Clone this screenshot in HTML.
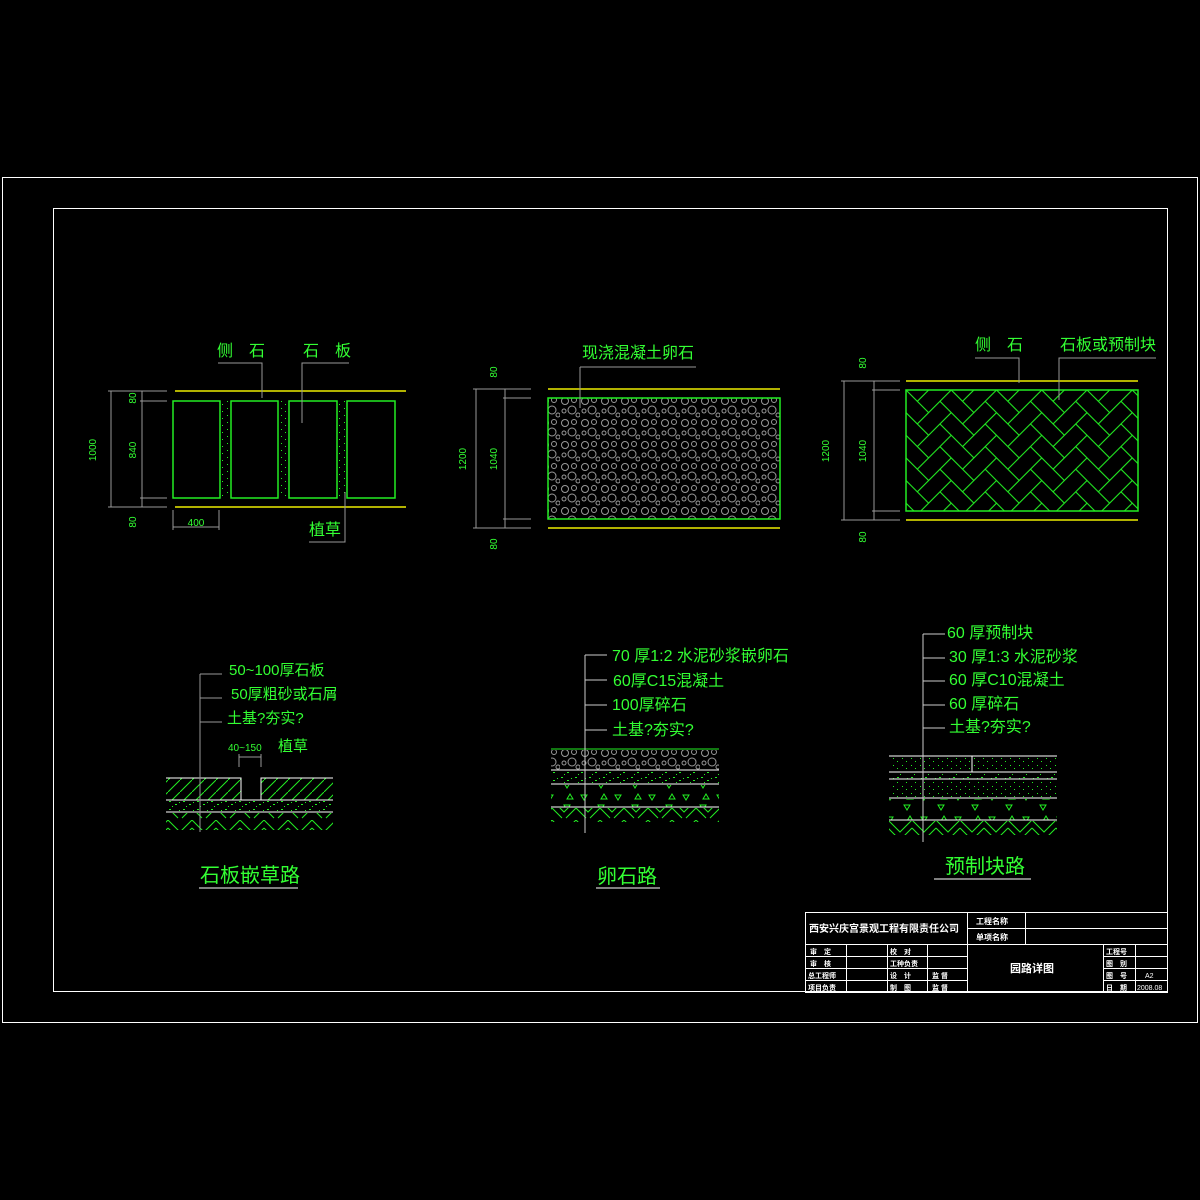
<!DOCTYPE html>
<html><head><meta charset="utf-8"><style>
html,body{margin:0;padding:0;background:#000;}
svg{display:block}
text{font-family:"Liberation Sans","Noto Sans CJK SC",sans-serif;fill:#3f3;}
</style></head><body>
<svg width="1200" height="1200" viewBox="0 0 1200 1200" xmlns="http://www.w3.org/2000/svg">
<defs>
<pattern id="cob" width="20" height="22" patternUnits="userSpaceOnUse">
<g fill="none" stroke="#999" stroke-width="1">
<circle cx="5" cy="5" r="3.5"/><circle cx="14" cy="4" r="2.5"/><circle cx="4" cy="15" r="2"/><circle cx="12" cy="14" r="4"/><circle cx="18" cy="19" r="2"/>
</g></pattern>
<g id="hb">
<rect x="-6" y="-6" width="2" height="1"/><rect x="-6" y="-5" width="1" height="2"/>
<rect x="-5" y="-5" width="2" height="1"/><rect x="-5" y="-4" width="1" height="2"/>
<rect x="-4" y="-4" width="2" height="1"/><rect x="-4" y="-3" width="1" height="2"/>
<rect x="-3" y="-3" width="2" height="1"/><rect x="-3" y="-2" width="1" height="2"/>
<rect x="-2" y="-2" width="2" height="1"/><rect x="-2" y="-1" width="1" height="2"/>
<rect x="-1" y="-1" width="2" height="1"/><rect x="-1" y="0" width="1" height="2"/>
<rect x="0" y="0" width="2" height="1"/><rect x="0" y="1" width="1" height="2"/>
<rect x="1" y="1" width="2" height="1"/><rect x="1" y="2" width="1" height="2"/>
<rect x="2" y="2" width="2" height="1"/><rect x="2" y="3" width="1" height="2"/>
<rect x="3" y="3" width="2" height="1"/><rect x="3" y="4" width="1" height="2"/>
<rect x="4" y="4" width="2" height="1"/><rect x="4" y="5" width="1" height="2"/>
<rect x="5" y="5" width="2" height="1"/><rect x="5" y="6" width="1" height="2"/>
<rect x="6" y="6" width="2" height="1"/><rect x="6" y="7" width="1" height="2"/>
<rect x="7" y="7" width="2" height="1"/><rect x="7" y="8" width="1" height="2"/>
<rect x="8" y="8" width="2" height="1"/><rect x="8" y="9" width="1" height="2"/>
</g>
<pattern id="herr" width="4" height="4" patternUnits="userSpaceOnUse" patternTransform="translate(906 390) rotate(45) scale(16)">
<g fill="none" stroke="#2e2" stroke-width="0.065">
<use href="#hb"/><use href="#hb" transform="translate(0 -4)"/><use href="#hb" transform="translate(0 4)"/>
</g></pattern>
<pattern id="soil" width="24" height="20" patternUnits="userSpaceOnUse">
<path d="M0 0 L12 12 L24 0 M0 8 L10 18 M24 8 L14 18" stroke="#2e2" stroke-width="1" fill="none"/>
</pattern>
<pattern id="diag" width="12" height="12" patternUnits="userSpaceOnUse">
<path d="M0 12 L12 0" stroke="#2e2" stroke-width="1"/>
</pattern>
<pattern id="sand" width="14" height="8" patternUnits="userSpaceOnUse">
<g fill="#2e2"><rect x="1" y="1" width="2" height="1"/><rect x="7" y="4" width="2" height="1"/><rect x="11" y="2" width="1" height="1"/><rect x="4" y="6" width="1" height="1"/></g>
</pattern>
<pattern id="tri" width="34" height="22" patternUnits="userSpaceOnUse">
<g fill="none" stroke="#2e2"><path d="M3 3 L9 3 L6 8Z"/><path d="M20 13 L26 13 L23 18Z"/><path d="M26 2 L29 7 L23 7Z"/></g>
</pattern>
<pattern id="dots" width="9" height="7" patternUnits="userSpaceOnUse">
<g fill="#2e2"><rect x="2" y="2" width="1" height="1"/><rect x="6" y="5" width="1" height="1"/></g>
</pattern>
</defs>
<g fill="none" stroke="#fff" stroke-width="1">
<rect x="2.5" y="177.5" width="1195" height="845"/>
<rect x="53.5" y="208.5" width="1114" height="783"/>
</g>

<!-- LEFT PLAN -->
<g stroke="#ee0" stroke-width="1.5"><path d="M175 391H406M175 507H406"/></g>
<g fill="none" stroke="#2e2" stroke-width="1.5">
<rect x="173" y="401" width="47" height="97"/><rect x="231" y="401" width="47" height="97"/><rect x="289" y="401" width="48" height="97"/><rect x="347" y="401" width="48" height="97"/>
</g>
<rect x="221" y="401" width="9" height="97" fill="url(#dots)"/><rect x="279" y="401" width="9" height="97" fill="url(#dots)"/><rect x="338" y="401" width="8" height="97" fill="url(#dots)"/>
<g stroke="#999" fill="none">
<path d="M111 391V507M142 391V507M108 391H167M140 401H167M140 498H167M108 507H167M173 510V530M219 510V530M173 527H219"/>
<path d="M218 363H262V398M349 363H302V423M345 492V542H309"/>
</g>
<g font-size="10">
<text x="96" y="450" transform="rotate(-90 96 450)" text-anchor="middle">1000</text>
<text x="136" y="398" transform="rotate(-90 136 398)" text-anchor="middle">80</text>
<text x="136" y="450" transform="rotate(-90 136 450)" text-anchor="middle">840</text>
<text x="136" y="522" transform="rotate(-90 136 522)" text-anchor="middle">80</text>
<text x="196" y="526" text-anchor="middle">400</text>
</g>
<g font-size="16"><text x="217" y="356">侧　石</text><text x="303" y="356">石　板</text><text x="309" y="535">植草</text></g>

<!-- MIDDLE PLAN -->
<g stroke="#ee0" stroke-width="1.5"><path d="M548 389H780M548 528H780"/></g>
<rect x="548" y="398" width="232" height="121" fill="url(#cob)" stroke="#2e2" stroke-width="1.5"/>
<g stroke="#999" fill="none"><path d="M476 389V528M505 389V528M473 389H531M503 398H531M503 519H531M473 528H531M580 367H696M580 367V408"/></g>
<g font-size="10">
<text x="497" y="372" transform="rotate(-90 497 372)" text-anchor="middle">80</text>
<text x="466" y="459" transform="rotate(-90 466 459)" text-anchor="middle">1200</text>
<text x="497" y="459" transform="rotate(-90 497 459)" text-anchor="middle">1040</text>
<text x="497" y="544" transform="rotate(-90 497 544)" text-anchor="middle">80</text>
</g>
<text x="582" y="358" font-size="16">现浇混凝土卵石</text>

<!-- RIGHT PLAN -->
<g stroke="#ee0" stroke-width="1.5"><path d="M906 381H1138M906 520H1138"/></g>
<rect x="906" y="390" width="232" height="121" fill="url(#herr)" stroke="#2e2" stroke-width="1.5"/>
<g stroke="#999" fill="none"><path d="M844 381V520M874 381V520M841 381H900M872 390H900M872 511H900M841 520H900M975 358H1019V383M1156 358H1059V400"/></g>
<g font-size="10">
<text x="866" y="363" transform="rotate(-90 866 363)" text-anchor="middle">80</text>
<text x="829" y="451" transform="rotate(-90 829 451)" text-anchor="middle">1200</text>
<text x="866" y="451" transform="rotate(-90 866 451)" text-anchor="middle">1040</text>
<text x="866" y="537" transform="rotate(-90 866 537)" text-anchor="middle">80</text>
</g>
<g font-size="16"><text x="975" y="350">侧　石</text><text x="1060" y="350">石板或预制块</text></g>

<!-- LEFT SECTION -->
<rect x="166" y="778" width="75" height="22" fill="url(#diag)"/><rect x="261" y="778" width="72" height="22" fill="url(#diag)"/>
<rect x="166" y="801" width="167" height="11" fill="url(#sand)"/>
<rect x="166" y="813" width="167" height="17" fill="url(#soil)"/>
<g stroke="#fff" fill="none"><path d="M166 778H241V800M333 778H261V800M166 800H333M166 812H333"/></g>
<g stroke="#999" fill="none"><path d="M200 674V832M200 674H222M200 698H222M200 722H222M239 757H261M239 754V767M261 754V767"/></g>
<g font-size="15"><text x="229" y="675">50~100厚石板</text><text x="231" y="699">50厚粗砂或石屑</text><text x="227" y="723">土基?夯实?</text><text x="278" y="751">植草</text></g>
<text x="228" y="751" font-size="10">40~150</text>
<text x="200" y="882" font-size="20">石板嵌草路</text>
<path d="M199 888H298" stroke="#fff"/>

<!-- MIDDLE SECTION -->
<rect x="551" y="750" width="168" height="20" fill="url(#cob)"/>
<rect x="551" y="771" width="168" height="13" fill="url(#sand)"/>
<rect x="551" y="785" width="168" height="22" fill="url(#tri)"/>
<rect x="551" y="808" width="168" height="14" fill="url(#soil)"/>
<g stroke="#fff" fill="none"><path d="M551 770H719M551 784H719M551 807H719"/></g>
<path d="M551 749H719" stroke="#2e2"/>
<g stroke="#ccc" fill="none"><path d="M585 655V833M585 655H607M585 680H607M585 705H607M585 730H607"/></g>
<g font-size="16"><text x="612" y="661">70 厚1:2 水泥砂浆嵌卵石</text><text x="613" y="686">60厚C15混凝土</text><text x="612" y="710">100厚碎石</text><text x="612" y="735">土基?夯实?</text></g>
<text x="597" y="883" font-size="20">卵石路</text>
<path d="M596 888H660" stroke="#fff"/>

<!-- RIGHT SECTION -->
<rect x="889" y="757" width="168" height="14" fill="url(#dots)"/>
<rect x="889" y="773" width="168" height="6" fill="url(#sand)"/>
<rect x="889" y="780" width="168" height="18" fill="url(#dots)"/>
<rect x="889" y="799" width="168" height="21" fill="url(#tri)"/>
<rect x="889" y="821" width="168" height="14" fill="url(#soil)"/>
<g stroke="#fff" fill="none"><path d="M889 756H1057M889 772H1057M889 779H1057M889 798H1057M889 820H1057M972 756V772"/></g>
<g stroke="#ccc" fill="none"><path d="M923 634V842M923 634H945M923 658H945M923 681H945M923 705H945M923 728H945"/></g>
<g font-size="16"><text x="947" y="638">60 厚预制块</text><text x="949" y="662">30 厚1:3 水泥砂浆</text><text x="949" y="685">60 厚C10混凝土</text><text x="949" y="709">60 厚碎石</text><text x="949" y="732">土基?夯实?</text></g>
<text x="945" y="873" font-size="20">预制块路</text>
<path d="M934 879H1031" stroke="#fff"/>

<!-- TITLE BLOCK -->
<g stroke="#fff" fill="none" stroke-width="1">
<rect x="805.5" y="912.5" width="362" height="80"/>
<path d="M967.5 912V992M967 928.5H1168M805 944.5H1168M1025.5 912V944M805 956.5H967M805 968.5H967M805 980.5H967M846.5 944V992M887.5 944V992M927.5 944V992M1103.5 944V992M1135.5 944V992M1103 956.5H1168M1103 968.5H1168M1103 980.5H1168"/>
</g>
<g font-weight="bold">
<text x="809" y="932" font-size="10" style="fill:#fff">西安兴庆宫景观工程有限责任公司</text>
<text x="976" y="924" font-size="8" style="fill:#fff">工程名称</text>
<text x="976" y="940" font-size="8" style="fill:#fff">单项名称</text>
<text x="810" y="954" font-size="7" style="fill:#fff">审　定</text>
<text x="810" y="966" font-size="7" style="fill:#fff">审　核</text>
<text x="808" y="978" font-size="7" style="fill:#fff">总工程师</text>
<text x="808" y="990" font-size="7" style="fill:#fff">项目负责</text>
<text x="890" y="954" font-size="7" style="fill:#fff">校　对</text>
<text x="890" y="966" font-size="7" style="fill:#fff">工种负责</text>
<text x="890" y="978" font-size="7" style="fill:#fff">设　计</text>
<text x="890" y="990" font-size="7" style="fill:#fff">制　图</text>
<text x="932" y="978" font-size="7" style="fill:#fff">监 督</text>
<text x="932" y="990" font-size="7" style="fill:#fff">监 督</text>
<text x="1010" y="972" font-size="11" style="fill:#fff">园路详图</text>
<text x="1106" y="954" font-size="7" style="fill:#fff">工程号</text>
<text x="1106" y="966" font-size="7" style="fill:#fff">图　别</text>
<text x="1106" y="978" font-size="7" style="fill:#fff">图　号</text>
<text x="1106" y="990" font-size="7" style="fill:#fff">日　期</text>
<text x="1145" y="978" font-size="7" style="fill:#fff" font-weight="normal">A2</text>
<text x="1137" y="990" font-size="7" style="fill:#fff" font-weight="normal">2008.08</text>
</g>
</svg>
</body></html>
